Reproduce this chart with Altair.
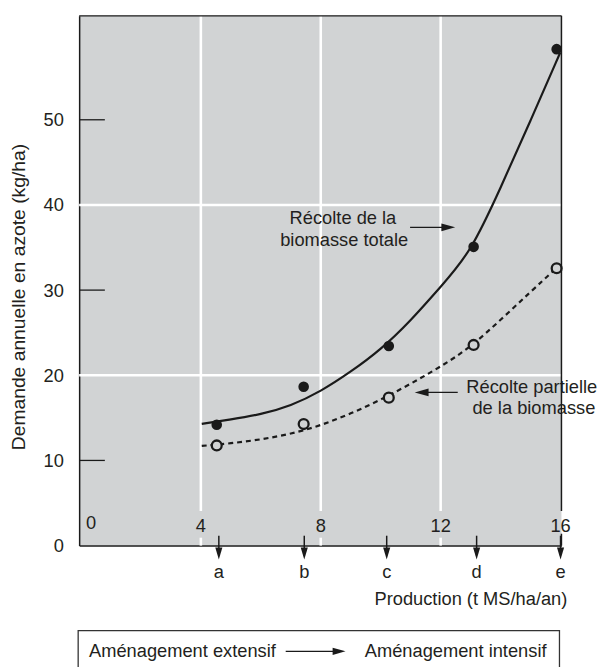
import altair as alt
import pandas as pd

# ---------------- data ----------------
# fitted curves
total_x = [4.03, 5.0, 6.0, 7.0, 8.0, 9.0, 10.0, 11.0, 12.0, 13.0, 14.0, 15.0, 15.99]
total_y = [14.3, 14.8, 15.4, 16.4, 18.1, 20.4, 23.0, 26.4, 30.4, 34.4, 42.0, 49.9, 57.9]
partial_x = [4.03, 5.0, 6.0, 7.0, 8.0, 9.0, 10.0, 11.0, 12.0, 13.0, 14.0, 15.0, 15.87]
partial_y = [11.7, 12.0, 12.45, 13.1, 14.1, 15.5, 17.1, 19.0, 21.0, 23.3, 26.5, 29.8, 32.6]

# observed points
point_x = [4.53, 7.43, 10.27, 13.10, 15.87]
total_pts = [14.19, 18.65, 23.44, 35.08, 58.29]
partial_pts = [11.76, 14.27, 17.37, 23.56, 32.57]

# management stages along the production axis
stage_labels = ["a", "b", "c", "d", "e"]
stage_x = [4.6, 7.45, 10.2, 13.2, 16.0]

x_ticks = [4, 8, 12, 16]
x_zero = [0]
y_ticks = [0, 10, 20, 30, 40, 50]
y_grid = [20, 40]
y_minor = [10, 30, 50]
x_grid = [4, 8, 12]

ann_text = ["Récolte de la", "biomasse totale", "Récolte partielle", "de la biomasse"]
ann_x = [8.74, 8.78, 15.04, 15.11]
ann_y = [38.41, 35.86, 18.57, 16.13]
arrow_x1 = [10.98, 12.57]
arrow_x2 = [12.30, 11.30]
arrow_y = [37.37, 17.99]
arrow_head_x = [12.255, 11.365]
arrow_dir = ["right", "left"]

y_title = "Demande annuelle en azote (kg/ha)"
x_title = "Production (t MS/ha/an)"
box_left = "Aménagement extensif"
box_right = "Aménagement intensif"

# ---------------- styling ----------------
FONT = "Liberation Sans"
INK = "#1a1a1a"
TXT = "#231f20"
GRAY = "#d1d3d4"
FS = 18.5
W, H = 488, 536

X = alt.Scale(domain=[-0.06, 16.03], nice=False, zero=False)
Y = alt.Scale(domain=[0, 62.2], nice=False, zero=False)
XAX = alt.Axis(labels=False, ticks=False, tickSize=0, grid=False,
               domainColor=INK, domainWidth=1.5, title=None)
YAX = alt.Axis(values=y_ticks, ticks=False, tickSize=0, grid=False, labelPadding=16,
               labelFont=FONT, labelFontSize=FS, labelColor=TXT, labelOverlap=False,
               domainColor=INK, domainWidth=1.5,
               title=y_title, titleFont=FONT, titleFontSize=19.5, titleFontWeight="normal",
               titleColor=TXT, titleAngle=270, titleX=-61, titleY=284,
               titleAlign="center", titleBaseline="middle")


def xf(n):
    return alt.X(f"{n}:Q", scale=X, axis=XAX)


def yf(n):
    return alt.Y(f"{n}:Q", scale=Y, axis=YAX)


one = pd.DataFrame({"k": [0]})
RIGHT = "M-1,-0.55L1,0L-1,0.55Z"
LEFT = "M1,-0.55L-1,0L1,0.55Z"
DOWN = "M-0.6,-1L0,1L0.6,-1Z"

df_total = pd.DataFrame({"x": total_x, "y": total_y})
df_partial = pd.DataFrame({"x": partial_x, "y": partial_y})
df_pts = pd.DataFrame({"x": point_x, "t": total_pts, "p": partial_pts})
df_stage = pd.DataFrame({"x": stage_x, "lab": stage_labels})
df_ann = pd.DataFrame({"x": ann_x, "y": ann_y, "t": ann_text})
df_arr = pd.DataFrame({"x1": arrow_x1, "x2": arrow_x2, "y": arrow_y, "hx": arrow_head_x, "d": arrow_dir})

grid_h = alt.Chart(pd.DataFrame({"y": y_grid})).mark_rule(color="white", strokeWidth=2.6).encode(y=yf("y"))
grid_v_up = alt.Chart(pd.DataFrame({"x": x_grid})).mark_rule(color="white", strokeWidth=2.6).encode(
    x=xf("x"), y=alt.value(0), y2=alt.value(501))
grid_v_lo = alt.Chart(pd.DataFrame({"x": x_grid})).mark_rule(color="white", strokeWidth=2.6).encode(
    x=xf("x"), y=alt.value(528), y2=alt.value(536))

border_top = alt.Chart(one).mark_rule(color=INK, strokeWidth=1.5).encode(
    x=alt.value(0), x2=alt.value(W), y=alt.value(0))
border_r1 = alt.Chart(one).mark_rule(color=INK, strokeWidth=1.5).encode(
    x=alt.value(W), y=alt.value(0), y2=alt.value(501))
border_r2 = alt.Chart(one).mark_rule(color=INK, strokeWidth=1.5).encode(
    x=alt.value(W), y=alt.value(524), y2=alt.value(H))

minor = alt.Chart(pd.DataFrame({"y": y_minor})).mark_rule(color=INK, strokeWidth=1.3).encode(
    y=yf("y"), x=alt.value(0), x2=alt.value(26))

line_total = alt.Chart(df_total).mark_line(color=INK, strokeWidth=2.2, interpolate="basis").encode(
    x=xf("x"), y=yf("y"))
line_partial = alt.Chart(df_partial).mark_line(color=INK, strokeWidth=2.2, strokeDash=[5, 4],
                                                interpolate="basis").encode(x=xf("x"), y=yf("y"))

pts_total = alt.Chart(df_pts).mark_point(shape="circle", filled=True, color=INK, size=115, opacity=1).encode(
    x=xf("x"), y=yf("t"))
pts_partial = alt.Chart(df_pts).mark_point(shape="circle", filled=True, fill=GRAY, stroke=INK,
                                           strokeWidth=2.3, size=100, opacity=1).encode(x=xf("x"), y=yf("p"))

ann = alt.Chart(df_ann).mark_text(font=FONT, fontSize=FS, color=TXT, align="center", baseline="middle").encode(
    x=xf("x"), y=yf("y"), text="t:N")
ann_lines = alt.Chart(df_arr).mark_rule(color=INK, strokeWidth=1.3).encode(x=xf("x1"), x2="x2:Q", y=yf("y"))
head_r = alt.Chart(df_arr).transform_filter("datum.d == 'right'").mark_point(
    shape=RIGHT, filled=True, color=INK, size=196, opacity=1).encode(x=xf("hx"), y=yf("y"))
head_l = alt.Chart(df_arr).transform_filter("datum.d == 'left'").mark_point(
    shape=LEFT, filled=True, color=INK, size=196, opacity=1).encode(x=xf("hx"), y=yf("y"))

xlab0 = alt.Chart(pd.DataFrame({"x": x_zero})).mark_text(
    font=FONT, fontSize=FS, color=TXT, align="left", baseline="middle", dx=5).encode(
    x=xf("x"), y=alt.value(513), text="x:Q")
xlab = alt.Chart(pd.DataFrame({"x": x_ticks})).mark_text(
    font=FONT, fontSize=FS, color=TXT, align="center", baseline="middle").encode(
    x=xf("x"), y=alt.value(516), text="x:Q")

stage_lines = alt.Chart(df_stage).mark_rule(color=INK, strokeWidth=1.5).encode(
    x=xf("x"), y=alt.value(526), y2=alt.value(546))
stage_heads = alt.Chart(df_stage).mark_point(shape=DOWN, filled=True, color=INK, size=144, opacity=1).encode(
    x=xf("x"), y=alt.value(544))
stage_text = alt.Chart(df_stage).mark_text(font=FONT, fontSize=FS, color=TXT, baseline="middle").encode(
    x=xf("x"), y=alt.value(563), text="lab:N")

prod = alt.Chart(pd.DataFrame({"t": [x_title]})).mark_text(
    font=FONT, fontSize=FS, color=TXT, align="right", baseline="middle").encode(
    x=alt.value(494), y=alt.value(590), text="t:N")

box = alt.Chart(one).mark_rect(fillOpacity=0, stroke="#333333", strokeWidth=1.3).encode(
    x=alt.value(-1), x2=alt.value(486), y=alt.value(622), y2=alt.value(720))
box_t1 = alt.Chart(pd.DataFrame({"t": [box_left]})).mark_text(
    font=FONT, fontSize=FS, color=TXT, align="left", baseline="middle").encode(
    x=alt.value(10), y=alt.value(643), text="t:N")
box_t2 = alt.Chart(pd.DataFrame({"t": [box_right]})).mark_text(
    font=FONT, fontSize=FS, color=TXT, align="left", baseline="middle").encode(
    x=alt.value(289), y=alt.value(643), text="t:N")
box_line = alt.Chart(one).mark_rule(color=INK, strokeWidth=1.1).encode(
    x=alt.value(209), x2=alt.value(262), y=alt.value(643))
box_head = alt.Chart(one).mark_point(shape=RIGHT, filled=True, color=INK, size=169, opacity=1).encode(
    x=alt.value(263), y=alt.value(643))

chart = alt.layer(
    grid_h, grid_v_up, grid_v_lo, minor,
    line_partial, line_total, pts_partial, pts_total,
    ann, ann_lines, head_r, head_l,
    xlab0, xlab, border_top, border_r1, border_r2,
    stage_lines, stage_heads, stage_text, prod,
    box, box_line, box_head, box_t1, box_t2,
).properties(
    width=W, height=H,
    padding={"left": 72, "top": 4, "right": 38, "bottom": 130},
    autosize=alt.AutoSizeParams(type="none"),
).configure_view(stroke=None, fill=GRAY)

chart.save("out.html", embed_options={"renderer": "svg", "actions": False})
